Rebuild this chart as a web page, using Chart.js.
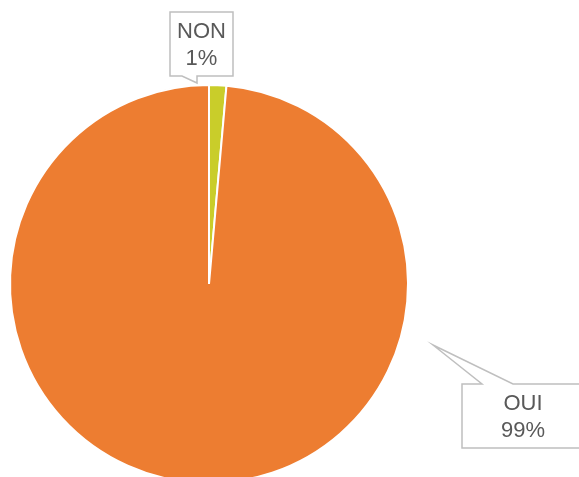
<!DOCTYPE html>
<html>
<head>
<meta charset="utf-8">
<script src="https://cdn.jsdelivr.net/npm/chart.js@4"></script>
<style>
  html, body { margin: 0; padding: 0; background: #ffffff; overflow: hidden; width: 579px; height: 477px; }
  #wrap { position: absolute; left: 0; top: 0; width: 579px; height: 500px; }
</style>
</head>
<body>
<div id="wrap"><canvas id="c" width="579" height="500"></canvas></div>
<script>
const categories = ['NON', 'OUI'];
const values = [1.4, 98.6];
const colors = ['#C9CD2A', '#ED7D31'];

// callout geometry relative to the pie centre (px)
const callouts = [
  { box: [-39, -272, 63, 64], base: [-27, -12], tip: [-12, -201], side: 'bottom' },
  { box: [253, 100, 122, 64], base: [273, 304], tip: [224, 61], side: 'top' }
];

const calloutPlugin = {
  id: 'callouts',
  afterDraw(chart) {
    const ctx = chart.ctx;
    const meta = chart.getDatasetMeta(0);
    const arc = meta.data[0];
    const cx = arc.x, cy = arc.y;
    const total = values.reduce((a, b) => a + b, 0);
    callouts.forEach((c, i) => {
      const [bx, by, bw, bh] = c.box;
      const L = cx + bx, T = cy + by, R = L + bw, B = T + bh;
      const b1 = cx + c.base[0], b2 = cx + c.base[1];
      const tx = cx + c.tip[0], ty = cy + c.tip[1];
      ctx.save();
      ctx.beginPath();
      if (c.side === 'bottom') {
        ctx.moveTo(L, T); ctx.lineTo(R, T); ctx.lineTo(R, B);
        ctx.lineTo(b2, B); ctx.lineTo(tx, ty); ctx.lineTo(b1, B);
        ctx.lineTo(L, B); ctx.closePath();
      } else {
        ctx.moveTo(L, T); ctx.lineTo(b1, T); ctx.lineTo(tx, ty); ctx.lineTo(b2, T);
        ctx.lineTo(R, T); ctx.lineTo(R, B); ctx.lineTo(L, B); ctx.closePath();
      }
      ctx.fillStyle = '#ffffff';
      ctx.fill();
      ctx.strokeStyle = '#BFBFBF';
      ctx.lineWidth = 1.5;
      ctx.stroke();
      ctx.fillStyle = '#595959';
      ctx.font = '22px "Liberation Sans", Arial, sans-serif';
      ctx.textAlign = 'center';
      ctx.textBaseline = 'middle';
      const mx = (L + R) / 2;
      const pct = Math.round(values[i] / total * 100) + '%';
      ctx.fillText(categories[i], mx, T + bh / 2 - 12);
      ctx.fillText(pct, mx, T + bh / 2 + 15);
      ctx.restore();
    });
  }
};

new Chart(document.getElementById('c'), {
  type: 'pie',
  data: {
    labels: categories,
    datasets: [{
      data: values,
      backgroundColor: colors,
      borderColor: '#ffffff',
      borderWidth: 2
    }]
  },
  options: {
    responsive: false,
    animation: false,
    layout: { padding: { left: 9, top: 84, right: 170, bottom: 16 } },
    plugins: { legend: { display: false }, tooltip: { enabled: false } }
  },
  plugins: [calloutPlugin]
});
</script>
</body>
</html>
